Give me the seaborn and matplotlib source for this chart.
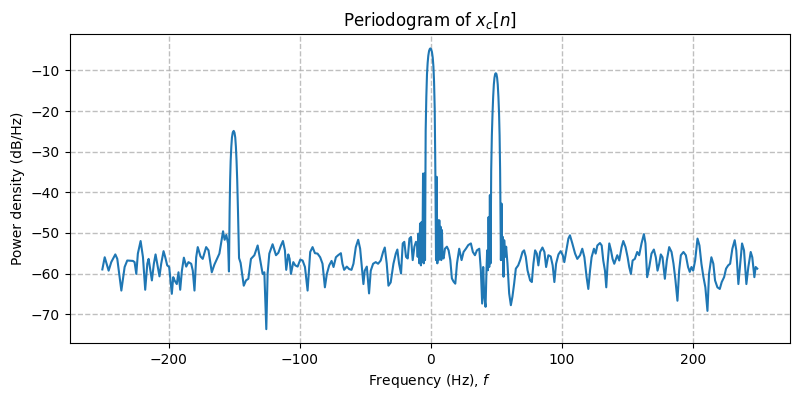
import numpy as np
import pandas as pd
import seaborn as sns
import matplotlib
matplotlib.use('Agg')
import matplotlib.pyplot as plt

# frequency (Hz) and power density (dB/Hz)
freq_hz = [
    -250.5, -248.7, -245.7, -243.7, -240.6, -239.1, -236.0, -233.5, -231.5, -227.2,
    -225.9, -224.6, -223.4, -221.3, -219.5, -217.8, -216.2, -215.2, -212.7, -211.2,
    -209.9, -206.9, -205.6, -203.8, -202.5, -201.0, -199.5, -197.5, -196.4, -195.4,
    -193.7, -192.4, -191.1, -189.8, -188.3, -186.5, -184.8, -182.7, -181.5, -180.2,
    -178.9, -177.7, -175.6, -173.9, -171.3, -169.5, -167.0, -165.0, -161.2,
    -158.4, -157.2, -155.9, -154.6, -153.9,
    -153.4, -153.0, -152.6, -152.1, -151.6, -151.0, -150.3, -149.7, -149.1, -148.6,
    -148.1, -147.6, -147.0, -146.2, -145.0,
    -142.6, -140.9, -139.1, -137.1, -134.5, -132.0, -130.0, -128.2, -126.9, -125.4,
    -124.4, -123.1, -120.6, -118.0, -116.2, -114.2, -112.7, -111.2, -110.2, -108.6,
    -107.6, -106.6, -104.8, -103.3, -101.5, -99.5, -97.7, -95.9, -93.9, -91.9,
    -90.1, -88.3, -86.3, -84.3, -82.5, -80.7, -79.2, -77.4, -75.6, -74.1,
    -72.3, -70.6, -68.5, -67.3, -66.0, -64.0, -62.2, -60.4, -58.9, -57.1,
    -55.3, -53.8, -52.5, -51.3, -50.3, -48.7, -47.0, -45.7, -43.9, -41.9,
    -40.1, -38.1, -36.3, -35.0, -33.5, -32.2, -30.5, -28.4, -26.6, -25.4,
    -24.1,
    -22.6, -21.3, -20.1, -18.8, -17.5, -16.2, -15.0, -13.7, -12.4, -11.2,
    -10.4, -9.9, -9.4, -8.6, -8.1, -7.4, -6.9, -6.3, -5.8, -5.3,
    -4.8, -4.3,
    -3.8, -3.3, -2.8, -2.3, -1.8, -1.2, -0.6, -0.2, 0.4, 1.0,
    1.6, 2.1, 2.6, 3.1, 3.6,
    4.1, 4.6, 5.1, 5.6, 6.1, 6.6, 7.1, 7.6, 8.1, 8.6,
    9.1, 9.9, 10.9, 12.4, 13.7, 15.0, 16.2, 17.5, 18.8, 20.1,
    21.8, 23.6, 25.1, 26.9, 28.7, 30.7, 32.2, 33.8, 35.3, 37.1,
    38.3, 39.3, 40.1, 40.9, 41.9, 42.6, 43.1, 43.7, 44.2, 44.7,
    45.2, 45.7,
    46.2, 46.7, 47.2, 47.7, 48.2, 48.7, 49.2, 49.7, 50.2, 50.7,
    51.2, 51.7, 52.2, 52.6, 53.0,
    53.6, 54.1, 54.6, 55.1, 55.6, 56.1, 56.9, 57.6, 58.6, 59.9,
    61.2, 62.4, 63.7, 65.0, 66.8, 68.3, 70.1, 71.3, 72.6, 73.9,
    75.9, 77.2, 78.4, 79.7, 81.0, 82.2, 83.5, 85.3, 86.8, 88.1,
    89.8, 91.6, 93.1, 94.4, 95.7, 97.5, 99.2, 100.8, 102.0, 103.8,
    105.1, 106.3, 108.1, 110.2, 111.9, 114.0, 115.7, 117.3, 119.0, 120.3,
    121.6, 122.8, 124.6, 125.9, 127.2, 129.2, 130.5, 131.7, 133.0, 134.0,
    135.0, 136.3, 137.6, 138.8, 140.1, 141.4, 142.4, 143.9, 145.7, 147.0,
    148.7, 150.3, 151.5, 152.8, 154.1, 155.8, 157.6, 159.1, 160.9, 162.7,
    163.9, 165.2, 166.8, 168.5, 170.3, 171.8, 173.1, 174.4,
    175.6, 176.9, 178.7, 180.2, 182.0, 183.8, 185.3, 186.8, 188.3, 189.6,
    190.9, 192.9, 194.7, 196.4, 197.7, 199.0, 200.3, 201.8, 203.6, 205.1,
    206.6, 208.1, 209.6, 211.2, 212.4, 214.2, 215.7, 217.0, 218.8, 220.6,
    222.1, 223.9, 225.4, 227.0, 228.5, 230.2, 232.0, 233.2, 234.8, 236.0,
    237.6, 239.1, 240.9, 242.4, 244.2, 245.4, 247.0, 248.0, 249.2,
]
psd_db = [
    -59.0, -56.0, -59.3, -57.2, -55.3, -56.4, -64.2, -58.4, -56.8, -56.9,
    -57.2, -60.1, -55.1, -52.0, -56.0, -64.0, -57.6, -56.4, -61.7, -57.6,
    -55.3, -60.7, -57.6, -54.5, -56.0, -58.0, -58.4, -65.0, -60.9, -61.7,
    -62.6, -59.7, -64.0, -59.3, -56.1, -58.3, -57.2, -57.6, -59.3, -64.2,
    -56.0, -53.5, -55.8, -56.4, -53.5, -54.3, -59.7, -57.8, -55.1,
    -49.6, -51.7, -50.5, -52.6, -59.5,
    -44.7, -37.0, -32.3, -28.8, -26.5, -25.3, -24.9, -25.3, -26.5, -28.8,
    -32.3, -37.0, -44.7, -56.2, -57.4,
    -63.0, -61.7, -61.3, -56.4, -55.5, -53.1, -56.8, -60.1, -59.7, -73.7,
    -60.0, -55.1, -52.8, -55.5, -54.9, -53.1, -52.0, -54.3, -59.1, -55.3,
    -56.4, -60.1, -57.2, -58.0, -58.3, -56.6, -56.8, -58.4, -64.2, -54.7,
    -53.5, -55.0, -55.1, -56.0, -57.6, -63.4, -60.1, -58.0, -56.9, -58.4,
    -56.0, -55.5, -55.0, -57.6, -59.1, -58.3, -58.9, -59.1, -57.6, -53.5,
    -51.7, -53.9, -58.4, -62.6, -59.3, -58.3, -64.9, -59.3, -57.6, -57.2,
    -57.6, -56.8, -54.7, -53.6, -57.6, -63.0, -62.2, -57.6, -55.1, -54.1,
    -57.6,
    -60.0, -52.6, -52.2, -55.9, -56.3, -51.4, -51.0, -56.7, -53.4, -52.2,
    -52.6, -55.9, -50.2, -57.5, -47.7, -58.0, -47.3, -57.1, -35.4, -57.5,
    -35.4, -56.7,
    -24.8, -16.5, -11.0, -8.2, -6.4, -5.2, -4.7, -4.6, -4.8, -5.5,
    -6.9, -9.0, -12.8, -19.5, -35.4,
    -56.7, -36.2, -57.5, -46.9, -56.7, -46.9, -55.9, -48.5, -56.7, -49.3,
    -55.9, -56.3, -53.9, -53.4, -54.3, -56.7, -61.2, -62.0, -62.5, -57.5,
    -53.9, -56.7, -54.7, -53.9, -53.0, -52.6, -54.7, -55.5, -54.3, -53.9,
    -59.2, -67.4, -58.4, -65.7, -68.2, -59.2, -54.3, -59.2, -46.1, -58.4,
    -40.7, -57.5,
    -34.6, -26.0, -20.7, -16.5, -13.5, -11.8, -10.9, -10.7, -10.9, -11.8,
    -13.5, -16.5, -20.7, -26.0, -34.6,
    -56.7, -42.8, -56.7, -51.0, -60.8, -51.8, -55.9, -53.4, -57.5, -64.9,
    -67.8, -65.7, -62.5, -58.8, -58.0, -56.7, -54.7, -54.3, -55.9, -59.2,
    -61.7, -62.1, -57.6, -54.3, -55.1, -58.0, -54.7, -53.6, -54.7, -58.4,
    -55.5, -55.8, -58.0, -62.1, -57.6, -55.3, -54.5, -55.5, -57.2, -53.9,
    -51.4, -50.6, -52.6, -55.1, -56.4, -55.5, -53.9, -56.0, -60.9, -63.8,
    -59.3, -56.0, -53.9, -55.1, -53.1, -52.5, -53.1, -56.8, -59.3, -63.4,
    -57.6, -52.6, -54.3, -56.4, -57.6, -56.4, -55.5, -56.8, -53.5, -52.0,
    -53.5, -56.0, -58.4, -60.1, -56.8, -56.4, -54.7, -55.5, -52.6, -50.3,
    -52.6, -60.9, -58.4, -55.1, -54.1, -56.0, -59.3, -57.6,
    -55.3, -56.0, -61.3, -56.8, -53.5, -54.7, -57.6, -61.7, -66.7, -59.3,
    -55.5, -54.7, -55.5, -58.4, -59.6, -58.4, -59.3, -56.8, -51.4, -53.1,
    -57.6, -60.8, -63.4, -69.2, -60.1, -56.0, -57.6, -61.7, -63.4, -63.8,
    -62.1, -60.9, -58.8, -58.0, -57.6, -53.9, -51.8, -54.3, -62.6, -58.4,
    -52.6, -54.3, -62.6, -58.4, -54.7, -56.0, -60.9, -58.4, -58.8,
]

df = pd.DataFrame({'f': freq_hz, 'psd': psd_db})

fig, ax = plt.subplots(figsize=(8, 4), dpi=100)
sns.lineplot(data=df, x='f', y='psd', ax=ax, color='#1f77b4',
             linewidth=1.5, estimator=None, sort=False)
ax.grid(True, linestyle='--', color='#b0b0b0', linewidth=1.0, alpha=0.8)
ax.set_title('Periodogram of $x_c[n]$')
ax.set_xlabel('Frequency (Hz), $f$')
ax.set_ylabel('Power density (dB/Hz)')
fig.subplots_adjust(left=0.087, right=0.9875, top=0.914, bottom=0.142)
plt.savefig('out.png', dpi=100)
